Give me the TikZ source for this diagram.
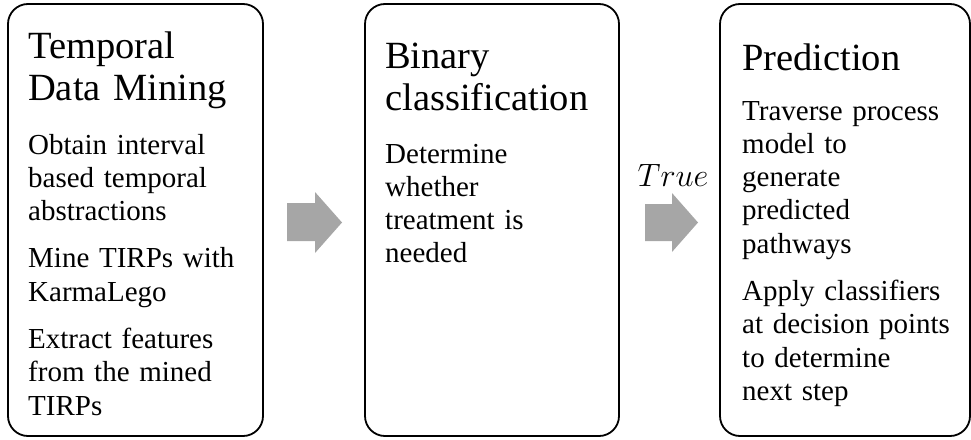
\documentclass[tikz,border=0pt]{standalone}
\usepackage{graphicx}
\usepackage{fontspec}
\setmainfont{Liberation Serif}
\definecolor{arrowgray}{RGB}{166,166,166}
\begin{document}
\begin{tikzpicture}[x=1pt,y=-1pt,
  box/.style={draw=black, line width=1.8pt, rounded corners=20pt, inner sep=0pt, outer sep=0pt},
  ttl/.style={anchor=base west, inner sep=0pt, text width=240pt, align=left, font=\fontsize{38.5}{42}\selectfont},
  bodytext/.style={anchor=base west, inner sep=0pt, text width=240pt, align=left, font=\fontsize{29}{33.3}\selectfont},
  blockarrow/.style={fill=arrowgray}]
\useasboundingbox (0,0) rectangle (971,439);

% boxes
\node[box, minimum width=255pt, minimum height=432pt] (b1) at (135.5,220) {};
\node[box, minimum width=254pt, minimum height=432pt] (b2) at (492,220) {};
\node[box, minimum width=250pt, minimum height=432pt] (b3) at (845,220) {};

% box 1
\node[ttl] (t1) at (28,58) {Temporal\\Data Mining};
\node[bodytext] (p1) at (28,154) {Obtain interval\\based temporal\\abstractions\\[14pt]Mine TIRPs with\\KarmaLego\\[14pt]Extract features\\from the mined\\TIRPs};

% box 2
\node[ttl] (t2) at (385,68) {Binary\\classification};
\node[bodytext] (p2) at (385,163) {Determine\\whether\\treatment is\\needed};

% box 3
\node[ttl] (t3) at (742,70) {Prediction};
\node[bodytext] (p3) at (742,120) {Traverse process\\model to\\generate\\predicted\\pathways\\[14pt]Apply classifiers\\at decision points\\to determine\\next step};

% block arrows
\fill[blockarrow] (287,203) -- (315,203) -- (315,192) -- (342,222.5) -- (315,253) -- (315,241) -- (287,241) -- cycle;
\fill[blockarrow] (645,204) -- (672,204) -- (672,193) -- (698,222.5) -- (672,252) -- (672,241) -- (645,241) -- cycle;

% label
\node[anchor=base, inner sep=0pt, font=\fontsize{24.88}{28}\selectfont] (lbl) at (673,186) {\scalebox{1.3}{$True$}};
\end{tikzpicture}
\end{document}
